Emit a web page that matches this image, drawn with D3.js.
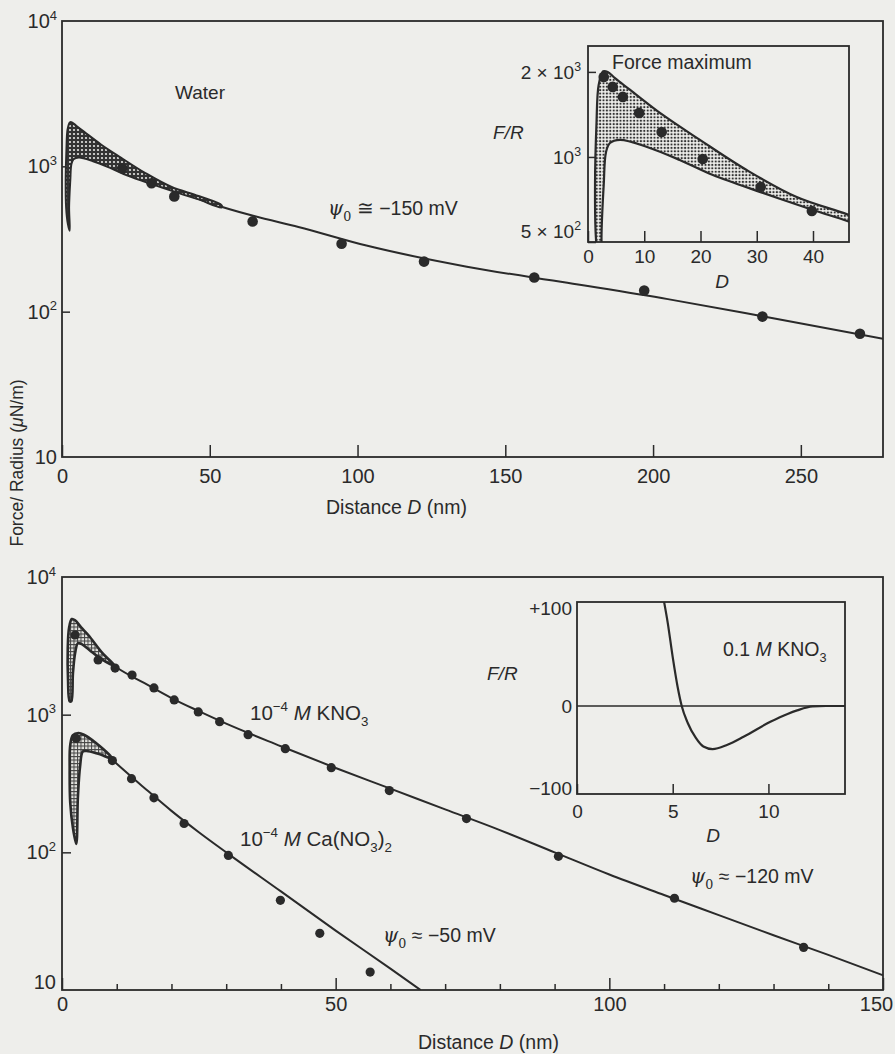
<!DOCTYPE html>
<html><head><meta charset="utf-8">
<script src="https://cdn.jsdelivr.net/npm/d3@7"></script>
<style>
html,body{margin:0;padding:0;background:#eeeeeb;}
svg{display:block;font-family:"Liberation Sans",Arial,sans-serif;}
</style></head><body>
<svg id="c" width="895" height="1054"></svg>
<script>
// ---------------- DATA ----------------
// Top panel (water): measured points [D nm, F/R uN/m]
const waterPoints = [[20.4,970],[30.3,764],[38,621],[64.5,418],[94.6,293],[122.5,221],[159.8,172],[197,140],[237,92.5],[270,70.5]];
const waterLine = [[20,1000],[25,890],[30,800],[38,690],[50,560],[65,455],[80,383],[103,285],[137,204],[171,158],[205,122],[237,93],[277.8,65]];
// outline of the shaded force-maximum band (water)
const waterBand = [[2.6,360],[2.0,400],[1.4,520],[1.25,800],[1.5,1300],[1.9,1800],[2.7,2010],[3.5,2000],[4.8,1900],[7.5,1727],[13.3,1408],[19.9,1149],[28.2,899],[37.1,721],[46.2,625],[54,540],[54,522],[46.2,592],[40,649],[31.1,746],[22.2,863],[16.3,976],[10.5,1085],[5.7,1150],[3.9,1120],[3.2,1040],[2.8,800],[2.4,520]];
// Top inset: force maximum points
const insetPoints = [[2.8,1920],[4.4,1770],[6.2,1631],[9.1,1432],[13.1,1226],[20.4,984],[30.7,783],[39.8,644]];
const topXTicks = [0,50,100,150,200,250];
const logTicks = [10,100,1000,10000];
const insetXTicks = [0,10,20,30,40];
const insetYTicks = [500,1000,2000];
const insetYLabels = [["5 \u00D7 10","2"],["10","3"],["2 \u00D7 10","3"]];

// Bottom panel: 1e-4 M KNO3
const kno3Points = [[2.4,3790],[6.6,2500],[9.7,2180],[12.8,1940],[16.8,1563],[20.5,1279],[24.9,1047],[28.8,889],[34,716],[40.8,566],[49.2,412],[59.8,281],[73.9,176],[90.7,93.5],[111.9,46.4],[135.5,20.4]];
const kno3Line = [[9,2350],[10,2200],[15,1700],[20,1320],[25,1060],[30,860],[40,590],[50,410],[60,290],[70,205],[80,145],[90,100],[100,69],[110,49],[120,35],[130,25],[140,18],[150,12.8]];
const kno3Band = [[1.4,1250],[1.1,1800],[1.05,3000],[1.3,4300],[1.8,4950],[2.4,4850],[3.5,4300],[4.8,3790],[7.4,2800],[9.7,2250],[7,2560],[5,2950],[3.6,3250],[2.9,3300],[2.4,2800],[2.0,2000],[1.7,1250]];
// Bottom panel: 1e-4 M Ca(NO3)2
const caPoints = [[2.6,670],[9.2,464],[12.7,343],[16.8,249],[22.3,162],[30.4,95],[39.9,44.8],[47.1,25.8],[56.3,13.5]];
const caLine = [[8,520],[10,440],[15,295],[20,200],[25,140],[30,100],[40,52],[50,27],[60,14.3],[65.5,10]];
const caBand = [[2.6,115],[2.0,150],[1.5,230],[1.4,400],[1.5,600],[2.0,710],[3.0,735],[4.0,715],[6.1,627],[9.2,480],[6.6,520],[4.5,545],[3.8,540],[3.3,420],[2.9,250]];
const botXMajor = [0,50,100,150];
const botXMinor = [10,20,30,40,60,70,80,90,110,120,130,140];
// Bottom inset: 0.1 M KNO3
const inset2Curve = [[4.55,100],[4.74,80],[5.0,47],[5.26,18],[5.47,0],[5.78,-19],[6.2,-36],[6.6,-46],[7.08,-49],[7.86,-44],[8.7,-35],[10.1,-18],[11.0,-9],[11.5,-5],[12.3,-0.5],[13,0],[14,0]];
const inset2XTicks = [0,5,10];
const inset2YTicks = [100,0,-100];
const inset2YLabels = ["+100","0","\u2212100"];

// ---------------- DRAW ----------------
const ink = "#2a2a2a";
const svg = d3.select("#c");
const defs = svg.append("defs");

// patterns
const p1 = defs.append("pattern").attr("id","darkDots").attr("patternUnits","userSpaceOnUse").attr("width",4).attr("height",4);
p1.append("rect").attr("width",4).attr("height",4).attr("fill","#333");
p1.append("circle").attr("cx",2).attr("cy",2).attr("r",1.1).attr("fill","#e6e6e3");
const p2 = defs.append("pattern").attr("id","stipple").attr("patternUnits","userSpaceOnUse").attr("width",3.4).attr("height",3.4);
p2.append("rect").attr("width",3.4).attr("height",3.4).attr("fill","#efefec");
p2.append("circle").attr("cx",1.7).attr("cy",1.7).attr("r",1.15).attr("fill","#333");
const p3 = defs.append("pattern").attr("id","grid").attr("patternUnits","userSpaceOnUse").attr("width",3.5).attr("height",3.5);
p3.append("rect").attr("width",3.5).attr("height",3.5).attr("fill","#e4e4e0");
p3.append("path").attr("d","M0,0.5H3.5M0.5,0V3.5").attr("stroke","#444").attr("stroke-width",1);

function clip(id,x0,y0,x1,y1){
  defs.append("clipPath").attr("id",id).append("rect").attr("x",x0).attr("y",y0).attr("width",x1-x0).attr("height",y1-y0);
}
function rich(parent, x, y, parts, o={}) {
  const fs = o.fs || 19;
  const t = parent.append("text").attr("x",x).attr("y",y).attr("font-size",fs).attr("fill",ink);
  if (o.anchor) t.attr("text-anchor", o.anchor);
  let cur = 0;
  parts.forEach(p => {
    if (typeof p === "string") p = {t:p};
    const target = p.sup ? -0.42*fs : p.sub ? 0.3*fs : 0;
    const ts = t.append("tspan").text(p.t).attr("dy", target-cur);
    cur = target;
    if (p.sup || p.sub) ts.attr("font-size", fs*0.65);
    if (p.it) ts.attr("font-style","italic");
    if (p.ff) ts.attr("font-family", p.ff);
  });
  return t;
}
function styleAxis(g, fs){
  g.select(".domain").remove();
  g.attr("font-family",null).attr("font-size",fs);
  g.selectAll(".tick line").attr("stroke",ink).attr("stroke-width",1.5);
  g.selectAll(".tick text").attr("fill",ink);
}
const psi = [{t:"\u03C8",it:true,ff:"DejaVu Serif"},{t:"0",sub:true,ff:"DejaVu Serif"}];

// ===== TOP PANEL =====
const xT = d3.scaleLinear().domain([0,277.8]).range([62,883]);
const yT = d3.scaleLog().domain([10,1e4]).range([457,21]);
clip("clipT",62,21,883,457);
const gT = svg.append("g");
gT.append("rect").attr("x",62).attr("y",21).attr("width",821).attr("height",436).attr("fill","none").attr("stroke",ink).attr("stroke-width",1.8);
const axTx = gT.append("g").attr("transform","translate(0,457)")
  .call(d3.axisBottom(xT).tickValues(topXTicks).tickSizeInner(-12).tickSizeOuter(0).tickPadding(12).tickFormat(d3.format("d")));
styleAxis(axTx,20);
const axTy = gT.append("g").attr("transform","translate(62,0)")
  .call(d3.axisLeft(yT).tickValues([100,1000]).tickSizeInner(-8).tickSizeOuter(0).tickFormat(""));
styleAxis(axTy,20);
logTicks.forEach(v=>{
  const e = Math.round(Math.log10(v));
  rich(gT, 57, yT(v)+7, e===1?["10"]:["10",{t:String(e),sup:true}], {fs:20, anchor:"end"});
});
const lineT = d3.line().x(d=>xT(d[0])).y(d=>yT(d[1])).curve(d3.curveMonotoneX);
const bandT = d3.line().x(d=>xT(d[0])).y(d=>yT(d[1])).curve(d3.curveCatmullRomClosed.alpha(0.5));
const cT = gT.append("g").attr("clip-path","url(#clipT)");
cT.append("path").attr("d",lineT(waterLine)).attr("fill","none").attr("stroke",ink).attr("stroke-width",2);
cT.append("path").attr("d",bandT(waterBand)).attr("fill","url(#darkDots)").attr("stroke",ink).attr("stroke-width",2);
cT.selectAll("circle.p").data(waterPoints).join("circle").attr("class","p")
  .attr("cx",d=>xT(d[0])).attr("cy",d=>yT(d[1])).attr("r",5.3).attr("fill",ink);
rich(gT,175,99,["Water"],{fs:19});
rich(gT,328,215,[...psi," \u2245 \u2212150 mV"],{fs:19.5});
rich(gT,326,514,["Distance ",{t:"D",it:true}," (nm)"],{fs:19.5});
rich(svg,23,463,["Force/ Radius (",{t:"\u03BC",it:true},"N/m)"],{fs:17.5,anchor:"middle"})
  .attr("x",0).attr("y",0).attr("transform","translate(23,463) rotate(-90)");

// ===== TOP INSET =====
const xI = d3.scaleLinear().domain([0,46.4]).range([588,849]);
const yI = d3.scaleLog().domain([500,2470]).range([242,46]);
clip("clipI",588,46,849,242);
const gI = svg.append("g");
const axIx = gI.append("g").attr("transform","translate(0,242)")
  .call(d3.axisBottom(xI).tickValues(insetXTicks).tickSizeInner(-11).tickSizeOuter(0).tickPadding(8).tickFormat(d3.format("d")));
styleAxis(axIx,19);
const axIy = gI.append("g").attr("transform","translate(588,0)")
  .call(d3.axisLeft(yI).tickValues(insetYTicks).tickSizeInner(-8).tickSizeOuter(0).tickFormat(""));
styleAxis(axIy,19);
insetYTicks.forEach((v,i)=>{
  const off = v===500 ? -4 : 7;
  rich(gI, 581, yI(v)+off, [insetYLabels[i][0],{t:insetYLabels[i][1],sup:true}], {fs:19, anchor:"end"});
});
const bandI = d3.line().x(d=>xI(d[0])).y(d=>yI(d[1])).curve(d3.curveCatmullRomClosed.alpha(0.5));
const cI = gI.append("g").attr("clip-path","url(#clipI)");
cI.append("path").attr("d",bandI(waterBand)).attr("fill","url(#stipple)").attr("stroke",ink).attr("stroke-width",2.2);
cI.selectAll("circle").data(insetPoints).join("circle")
  .attr("cx",d=>xI(d[0])).attr("cy",d=>yI(d[1])).attr("r",5.3).attr("fill",ink);
gI.append("rect").attr("x",588).attr("y",46).attr("width",261).attr("height",196).attr("fill","none").attr("stroke",ink).attr("stroke-width",1.8);
rich(gI,612,69,["Force maximum"],{fs:19.5});
rich(gI,493,139,[{t:"F/R",it:true}],{fs:19});
rich(gI,722,288,[{t:"D",it:true}],{fs:19,anchor:"middle"});

// ===== BOTTOM PANEL =====
const xB = d3.scaleLinear().domain([0,150]).range([62,883]);
const yB = d3.scaleLog().domain([10,1e4]).range([990,577]);
clip("clipB",62,577,883,990);
const gB = svg.append("g");
gB.append("rect").attr("x",62).attr("y",577).attr("width",821).attr("height",413).attr("fill","none").attr("stroke",ink).attr("stroke-width",1.8);
const axBm = gB.append("g").attr("transform","translate(0,990)")
  .call(d3.axisBottom(xB).tickValues(botXMinor).tickSizeInner(-6).tickSizeOuter(0).tickFormat(""));
styleAxis(axBm,20);
const axBx = gB.append("g").attr("transform","translate(0,990)")
  .call(d3.axisBottom(xB).tickValues(botXMajor).tickSizeInner(-12).tickSizeOuter(0).tickPadding(7).tickFormat(d3.format("d")));
styleAxis(axBx,20);
axBx.selectAll(".tick text").filter(d=>d===150).attr("dx",-7);
const axBy = gB.append("g").attr("transform","translate(62,0)")
  .call(d3.axisLeft(yB).tickValues([100,1000]).tickSizeInner(-9).tickSizeOuter(0).tickFormat(""));
styleAxis(axBy,20);
logTicks.forEach(v=>{
  const e = Math.round(Math.log10(v));
  rich(gB, 56, yB(v)+(e===1?-1:7), e===1?["10"]:["10",{t:String(e),sup:true}], {fs:20, anchor:"end"});
});
const lineB = d3.line().x(d=>xB(d[0])).y(d=>yB(d[1])).curve(d3.curveMonotoneX);
const bandB = d3.line().x(d=>xB(d[0])).y(d=>yB(d[1])).curve(d3.curveCatmullRomClosed.alpha(0.5));
const cB = gB.append("g").attr("clip-path","url(#clipB)");
[kno3Line, caLine].forEach(L=>cB.append("path").attr("d",lineB(L)).attr("fill","none").attr("stroke",ink).attr("stroke-width",2));
[kno3Band, caBand].forEach(B=>cB.append("path").attr("d",bandB(B)).attr("fill","url(#grid)").attr("stroke",ink).attr("stroke-width",2.6));
cB.selectAll("circle.k").data(kno3Points).join("circle").attr("class","k")
  .attr("cx",d=>xB(d[0])).attr("cy",d=>yB(d[1])).attr("r",4.6).attr("fill",ink);
cB.selectAll("circle.c").data(caPoints).join("circle").attr("class","c")
  .attr("cx",d=>xB(d[0])).attr("cy",d=>yB(d[1])).attr("r",4.6).attr("fill",ink);
rich(gB,250,720,["10",{t:"\u22124",sup:true},"  ",{t:"M",it:true}," KNO",{t:"3",sub:true}],{fs:20.5});
rich(gB,240,846,["10",{t:"\u22124",sup:true},"  ",{t:"M",it:true}," Ca(NO",{t:"3",sub:true},")",{t:"2",sub:true}],{fs:20.5});
rich(gB,383,942,[...psi," \u2248 \u221250 mV"],{fs:19.5});
rich(gB,690,883,[...psi," \u2248 \u2212120 mV"],{fs:19.5});
rich(gB,418,1049,["Distance ",{t:"D",it:true}," (nm)"],{fs:19.5});

// ===== BOTTOM INSET =====
const xI2 = d3.scaleLinear().domain([0,14]).range([577,845]);
const yI2 = d3.scaleLinear().domain([-100,0,100]).range([794,706,602]);
clip("clipI2",577,602,845,794);
const gI2 = svg.append("g");
const axI2x = gI2.append("g").attr("transform","translate(0,794)")
  .call(d3.axisBottom(xI2).tickValues(inset2XTicks).tickSizeInner(-10).tickSizeOuter(0).tickPadding(11).tickFormat(d3.format("d")));
styleAxis(axI2x,19);
inset2YTicks.forEach((v,i)=>{
  const off = v===100 ? 13 : v===0 ? 7 : 1;
  rich(gI2, 572, yI2(v)+off, [inset2YLabels[i]], {fs:19, anchor:"end"});
});
const cI2 = gI2.append("g").attr("clip-path","url(#clipI2)");
cI2.append("line").attr("x1",xI2(0)).attr("x2",xI2(14)).attr("y1",yI2(0)).attr("y2",yI2(0)).attr("stroke",ink).attr("stroke-width",1.6);
cI2.append("path").attr("d",d3.line().x(d=>xI2(d[0])).y(d=>yI2(d[1])).curve(d3.curveMonotoneX)(inset2Curve))
  .attr("fill","none").attr("stroke",ink).attr("stroke-width",2.2);
gI2.append("rect").attr("x",577).attr("y",602).attr("width",268).attr("height",192).attr("fill","none").attr("stroke",ink).attr("stroke-width",1.8);
rich(gI2,723,656,["0.1 ",{t:"M",it:true}," KNO",{t:"3",sub:true}],{fs:19.5});
rich(gI2,487,680,[{t:"F/R",it:true}],{fs:19});
rich(gI2,713,842,[{t:"D",it:true}],{fs:19,anchor:"middle"});
</script>
</body></html>
